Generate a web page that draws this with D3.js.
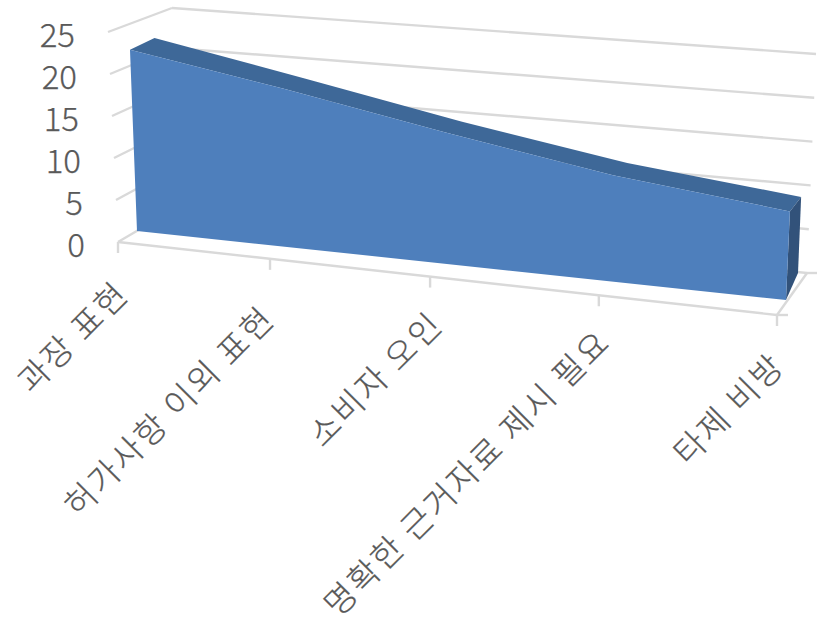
<!DOCTYPE html>
<html><head><meta charset="utf-8">
<script src="https://cdnjs.cloudflare.com/ajax/libs/d3/7.8.5/d3.min.js"></script>
<style>html,body{margin:0;padding:0;background:#fff}svg{display:block}text{font-family:"Noto Sans CJK KR","Noto Sans",sans-serif;fill:#595959;font-weight:300}</style>
</head><body><svg id="c" width="821" height="620"></svg>
<script>
const categories = ["과장 표현","허가사항 이외 표현","소비자 오인","명확한 근거자료 제시 필요","타제 비방"];
const values = [21.9,18.7,15.2,12.0,9.8];
const yTicks = [0,5,10,15,20,25];

// Projected planes of the 3D box: [bottom-left, bottom-right, top-left, top-right]
const wallFront = {bl:[118,242],br:[777,315],tl:[108,32],tr:[787,85]};
const wallBack  = {bl:[176,208],br:[807,273],tl:[172,8], tr:[816,54]};
const areaFront = {bl:[137,231],br:[786,300],tl:[129,24],tr:[796,74]};
const areaBack  = {bl:[158,214],br:[798,273],tl:[154,13],tr:[806,79]};

const yNorm = d3.scaleLinear().domain([0,25]).range([0,1]);
const xPoint = d3.scalePoint().domain(categories).range([0,1]);
const persp = t => t/(t+1.1116*(1-t));
function project(pl,u,v){
  const lerp=(a,b,k)=>[a[0]+(b[0]-a[0])*k,a[1]+(b[1]-a[1])*k];
  return lerp(lerp(pl.bl,pl.br,u),lerp(pl.tl,pl.tr,u),v);
}
const P=(pl,c,val)=>project(pl,persp(xPoint(c)),yNorm(val));
const line=d3.line();
const svg=d3.select("#c");
const grid=svg.append("g").attr("fill","none").attr("stroke","#D9D9D9").attr("stroke-width",2.4);
const addSeg=(a,b)=>grid.append("path").attr("d",line([a,b]));

// walls
yTicks.forEach(v=>{
  const fl=project(wallFront,0,yNorm(v)), bl=project(wallBack,0,yNorm(v)), br=project(wallBack,1,yNorm(v));
  addSeg(fl,bl); addSeg(bl,br);
});
// floor
addSeg(wallFront.bl,wallFront.br);
addSeg(wallFront.br,wallBack.br);
addSeg(wallFront.br,[wallFront.br[0]+11,wallFront.br[1]]);
addSeg(wallBack.br,[wallBack.br[0]+10,wallBack.br[1]]);
categories.forEach(c=>{const p=P(wallFront,c,0); addSeg(p,[p[0],p[1]+11]);});

// area faces
const fTop=categories.map((c,i)=>P(areaFront,c,values[i]));
const bTop=categories.map((c,i)=>P(areaBack,c,values[i]));
const last=categories[categories.length-1], lastV=values[values.length-1];
svg.append("path").attr("fill","#3E6898").attr("d",line([...fTop,...bTop.slice().reverse()])+"Z");
svg.append("path").attr("fill","#32527A").attr("d",line([P(areaFront,last,lastV),P(areaBack,last,lastV),P(areaBack,last,0),P(areaFront,last,0)])+"Z");
svg.append("path").attr("fill","#4E7FBC").attr("d",line([...fTop,P(areaFront,last,0),P(areaFront,categories[0],0)])+"Z");

// y labels
svg.append("g").selectAll("text").data(yTicks).join("text")
  .attr("x",d=>project(wallFront,0,yNorm(d))[0]-33)
  .attr("y",d=>project(wallFront,0,yNorm(d))[1]+1)
  .attr("text-anchor","end").attr("dominant-baseline","central")
  .attr("font-size",33).attr("stroke","#595959").attr("stroke-width",0.25).text(d=>d);

// category labels
const labelOffset=[[3,44],[-3,52],[5,40],[4,39],[0,43]];
svg.append("g").selectAll("text").data(categories).join("text")
  .attr("transform",(c,i)=>{const p=P(wallFront,c,0);return `translate(${p[0]+labelOffset[i][0]},${p[1]+labelOffset[i][1]}) rotate(-45)`;})
  .attr("text-anchor","end").attr("dominant-baseline","central")
  .attr("font-size",33).attr("letter-spacing",2.3).attr("stroke","#595959").attr("stroke-width",0.25).text(d=>d);
</script></body></html>
